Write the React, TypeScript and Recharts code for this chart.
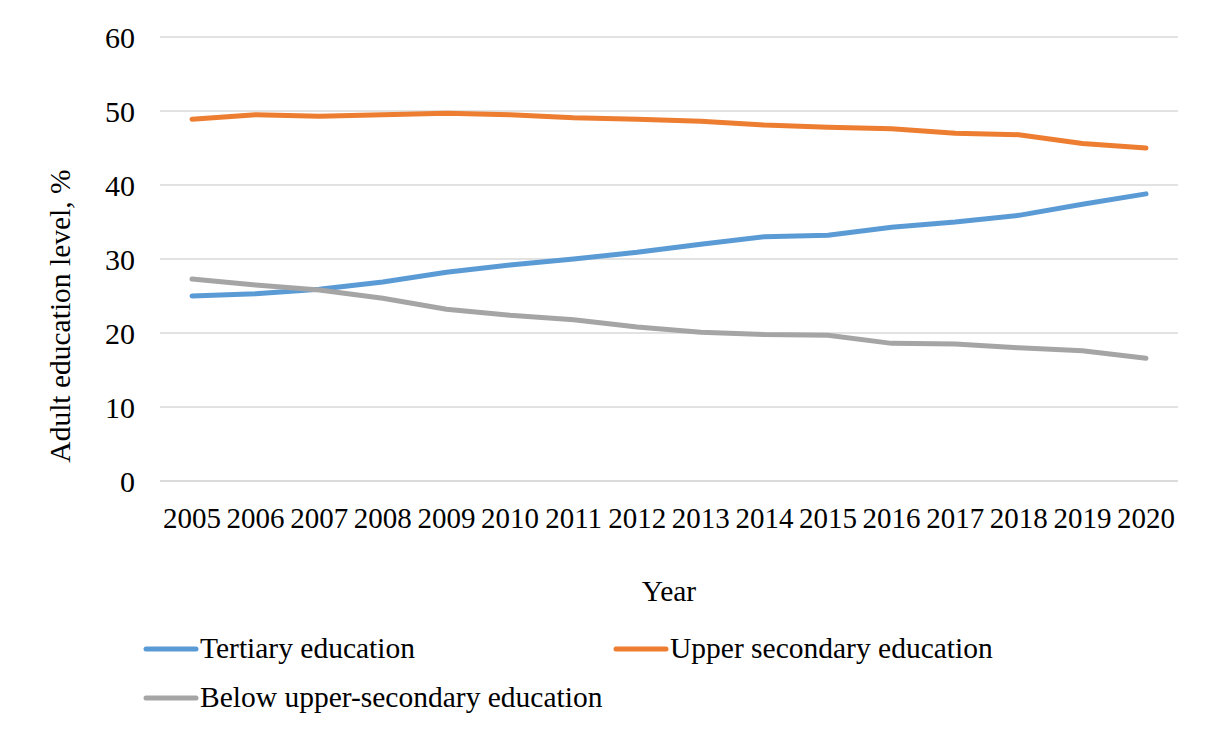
import { LineChart, Line, XAxis, YAxis, CartesianGrid, Legend } from 'recharts';

const years = ['2005', '2006', '2007', '2008', '2009', '2010', '2011', '2012', '2013', '2014', '2015', '2016', '2017', '2018', '2019', '2020'];
const tertiary = [25.0, 25.3, 25.9, 26.9, 28.2, 29.2, 30.0, 30.9, 32.0, 33.0, 33.2, 34.3, 35.0, 35.9, 37.4, 38.8];
const upperSecondary = [48.9, 49.5, 49.3, 49.5, 49.7, 49.5, 49.1, 48.9, 48.6, 48.1, 47.8, 47.6, 47.0, 46.8, 45.6, 45.0];
const belowUpper = [27.3, 26.5, 25.8, 24.7, 23.2, 22.4, 21.8, 20.8, 20.1, 19.8, 19.7, 18.6, 18.5, 18.0, 17.6, 16.6];
const yTicks = [0, 10, 20, 30, 40, 50, 60];
const seriesNames = ['Tertiary education', 'Upper secondary education', 'Below upper-secondary education'];

const data = years.map((year, i) => ({
  year,
  tertiary: tertiary[i],
  upper: upperSecondary[i],
  below: belowUpper[i],
}));

const font = '"Liberation Serif", "Times New Roman", serif';

const LegendContent = ({ payload }: any) => {
  const items = [...(payload || [])].sort(
    (a: any, b: any) => seriesNames.indexOf(a.value) - seriesNames.indexOf(b.value)
  );
  return (
    <div
      style={{
        display: 'grid',
        gridTemplateColumns: '470px 470px',
        fontFamily: font,
        fontSize: 29.5,
        color: '#000',
      }}
    >
      {items.map((item: any) => (
        <div key={item.value} style={{ display: 'flex', alignItems: 'center', height: 49 }}>
          <svg width={57} height={10}>
            <line x1={3} y1={5} x2={53} y2={5} stroke={item.color} strokeWidth={5} strokeLinecap='round' />
          </svg>
          <span>{item.value}</span>
        </div>
      ))}
    </div>
  );
};

export default function App() {
  return (
    <div style={{ margin: -8, width: 1206, height: 729, position: 'relative', background: '#fff' }}>
      <div
        style={{
          position: 'absolute',
          left: 5,
          top: 5,
          width: 1210,
          height: 730,
          border: '1px solid #d9d9d9',
        }}
      />
      <LineChart
        width={1206}
        height={729}
        data={data}
        margin={{ top: 37, right: 28, left: 100, bottom: 128 }}
        style={{ fontFamily: font }}
      >
        <CartesianGrid vertical={false} stroke='#d9d9d9' strokeWidth={1.5} />
        <XAxis
          dataKey='year'
          interval={0}
          height={120}
          padding={{ left: 32, right: 32 }}
          axisLine={{ stroke: '#d9d9d9', strokeWidth: 1.5 }}
          tickLine={false}
          tickMargin={20}
          tick={{ fill: '#000', fontSize: 29, fontFamily: font }}
          label={{ value: 'Year', position: 'insideBottom', offset: 0, fill: '#000', fontSize: 29.5, fontFamily: font }}
        />
        <YAxis
          width={60}
          domain={[0, 60]}
          ticks={yTicks}
          axisLine={false}
          tickLine={false}
          tickMargin={19}
          tick={{ fill: '#000', fontSize: 30, fontFamily: font }}
          label={{
            value: 'Adult education level, %',
            angle: -90,
            position: 'insideLeft',
            dx: -45,
            dy: 57,
            style: { textAnchor: 'middle' },
            fill: '#000',
            fontSize: 29.5,
            fontFamily: font,
          }}
        />
        <Legend
          layout='horizontal'
          verticalAlign='middle'
          align='center'
          content={<LegendContent />}
          wrapperStyle={{ position: 'absolute', left: 143, top: 624, width: 960 }}
        />
        <Line
          type='linear'
          dataKey='tertiary'
          name={seriesNames[0]}
          stroke='#5b9bd5'
          strokeWidth={5}
          strokeLinecap='round'
          dot={false}
          isAnimationActive={false}
        />
        <Line
          type='linear'
          dataKey='upper'
          name={seriesNames[1]}
          stroke='#ed7d31'
          strokeWidth={5}
          strokeLinecap='round'
          dot={false}
          isAnimationActive={false}
        />
        <Line
          type='linear'
          dataKey='below'
          name={seriesNames[2]}
          stroke='#a5a5a5'
          strokeWidth={5}
          strokeLinecap='round'
          dot={false}
          isAnimationActive={false}
        />
      </LineChart>
    </div>
  );
}
